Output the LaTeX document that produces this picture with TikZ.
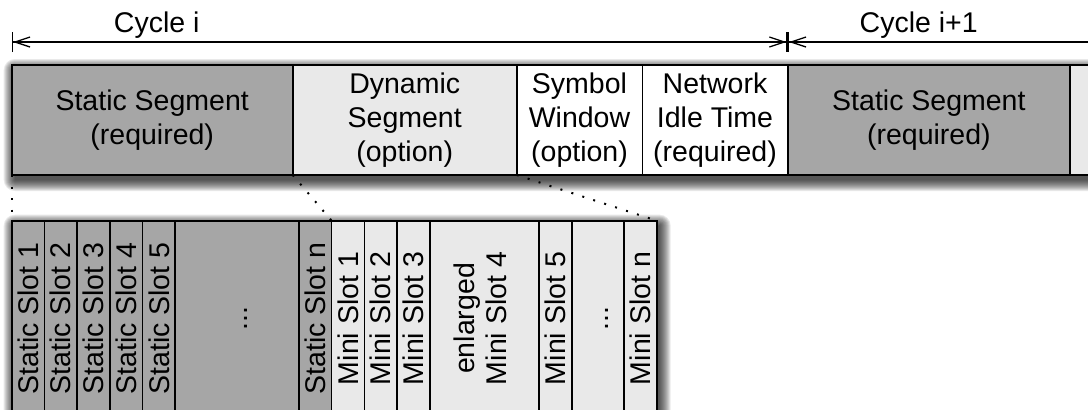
\documentclass[tikz,border=0pt]{standalone}
\usepackage{fontspec}
\setmainfont{Liberation Sans}
\usepackage{xcolor}
\usepackage{graphicx}
\usepackage{tikz}
\usetikzlibrary{positioning,arrows.meta,backgrounds}
\definecolor{staticgray}{RGB}{166,166,166}
\definecolor{dynamicgray}{RGB}{233,233,233}
\tikzstyle{segment}=[rectangle, draw=black, line width=1.6pt, outer sep=0pt, inner sep=2pt,
        minimum height=110pt, align=center, font=\fontsize{28.5}{34.3}\selectfont]
\tikzstyle{slot}=[rectangle, draw=black, line width=1.6pt, outer sep=0pt, inner sep=0pt,
        minimum height=195.6pt, minimum width=32.7pt, font=\fontsize{28.5}{32}\selectfont]
\tikzstyle{zoomline}=[line width=2pt, dash pattern=on 2pt off 9.5pt]
\tikzstyle{cyclearrow}=[line width=1.3pt,
        arrows={Bar[width=20pt]Straight Barb[length=15pt,width=10pt]}-{Straight Barb[length=15pt,width=10pt]Bar[width=20pt]}]
\tikzstyle{shadowlayer}=[fill=black, fill opacity=0.085]

\begin{document}
\begin{tikzpicture}[node distance=0pt]
        \useasboundingbox (0,0) rectangle (1088pt,-410pt);
        \node (stat1) [segment, fill=staticgray, minimum width=281pt, anchor=north west] at (11.7pt,-65pt)
        {Static Segment\\(required)};
        \node (dyn1) [segment, fill=dynamicgray, minimum width=224pt, right=of stat1]
        {Dynamic\\Segment\\(option)};
        \node (symwin) [segment, fill=white, minimum width=125.6pt, right=of dyn1]
        {Symbol\\Window\\(option)};
        \node (idle) [segment, fill=white, minimum width=145.4pt, right=of symwin]
        {Network\\Idle Time\\(required)};
        \node (stat2) [segment, fill=staticgray, minimum width=282.3pt, right=of idle]
        {Static Segment\\(required)};
        \node (dyn2) [segment, fill=dynamicgray, minimum width=224pt, right=of stat2] {};

        \node (slot1) [slot, fill=staticgray, anchor=north west] at ([yshift=-45.7pt]stat1.south west)
        {\rotatebox{90}{Static Slot 1}};
        \node (slot2) [slot, fill=staticgray, right=of slot1] {\rotatebox{90}{Static Slot 2}};
        \node (slot3) [slot, fill=staticgray, right=of slot2] {\rotatebox{90}{Static Slot 3}};
        \node (slot4) [slot, fill=staticgray, right=of slot3] {\rotatebox{90}{Static Slot 4}};
        \node (slot5) [slot, fill=staticgray, right=of slot4] {\rotatebox{90}{Static Slot 5}};
        \node (slotdots) [slot, fill=staticgray, minimum width=123.7pt, right=of slot5]
        {\rotatebox{90}{\vphantom{Sl}...}};
        \node (slotn) [slot, fill=staticgray, right=of slotdots] {\rotatebox{90}{Static Slot n}};
        \node (mini1) [slot, fill=dynamicgray, right=of slotn] {\rotatebox{90}{Mini Slot 1}};
        \node (mini2) [slot, fill=dynamicgray, right=of mini1] {\rotatebox{90}{Mini Slot 2}};
        \node (mini3) [slot, fill=dynamicgray, right=of mini2] {\rotatebox{90}{Mini Slot 3}};
        \node (mini4) [slot, fill=dynamicgray, minimum width=109.5pt, right=of mini3]
        {\rotatebox{90}{\begin{tabular}{@{}c@{}}enlarged\\Mini Slot 4\end{tabular}}};
        \node (mini5) [slot, fill=dynamicgray, minimum width=33pt, right=of mini4] {\rotatebox{90}{Mini Slot 5}};
        \node (minidots) [slot, fill=dynamicgray, minimum width=52pt, right=of mini5]
        {\rotatebox{90}{\vphantom{Sl}...}};
        \node (minin) [slot, fill=dynamicgray, minimum width=32.5pt, right=of minidots] {\rotatebox{90}{Mini Slot n}};

        \begin{scope}[on background layer]
        \foreach \r in {0,1,...,11}
        {
          \fill [shadowlayer, rounded corners={\r*1pt+0.1pt}]
            ([xshift={3pt-\r*1pt}, yshift={-5pt+\r*1pt}]stat1.north west)
            rectangle ([xshift={3pt+\r*1pt}, yshift={-5pt-\r*1pt}]dyn2.south east);
          \fill [shadowlayer, rounded corners={\r*1pt+0.1pt}]
            ([xshift={3pt-\r*1pt}, yshift={-5pt+\r*1pt}]slot1.north west)
            rectangle ([xshift={3pt+\r*1pt}, yshift={-5pt-\r*1pt}]minin.south east);
        }
        \end{scope}

        \draw [zoomline] (stat1.south west) -- (slot1.north west);
        \draw [zoomline] (stat1.south east) -- (slotn.north east);
        \draw [zoomline] (dyn1.south east) -- (minin.north east);

        \coordinate (c0) at ([yshift=23pt]stat1.north west);
        \coordinate (c1) at ([yshift=23pt]stat2.north west);
        \coordinate (c2) at ([yshift=23pt]dyn2.north east);
        \draw [cyclearrow] (c0) -- (c1);
        \draw [cyclearrow] (c1) -- (c2);

        \node (cyclei) [anchor=base, font=\fontsize{28.5}{34.3}\selectfont] at ([xshift=145pt, yshift=10pt]c0) {Cycle i};
        \node (cyclenext) [anchor=base, font=\fontsize{28.5}{34.3}\selectfont] at ([xshift=131pt, yshift=10pt]c1) {Cycle i+1};
\end{tikzpicture}
\end{document}
